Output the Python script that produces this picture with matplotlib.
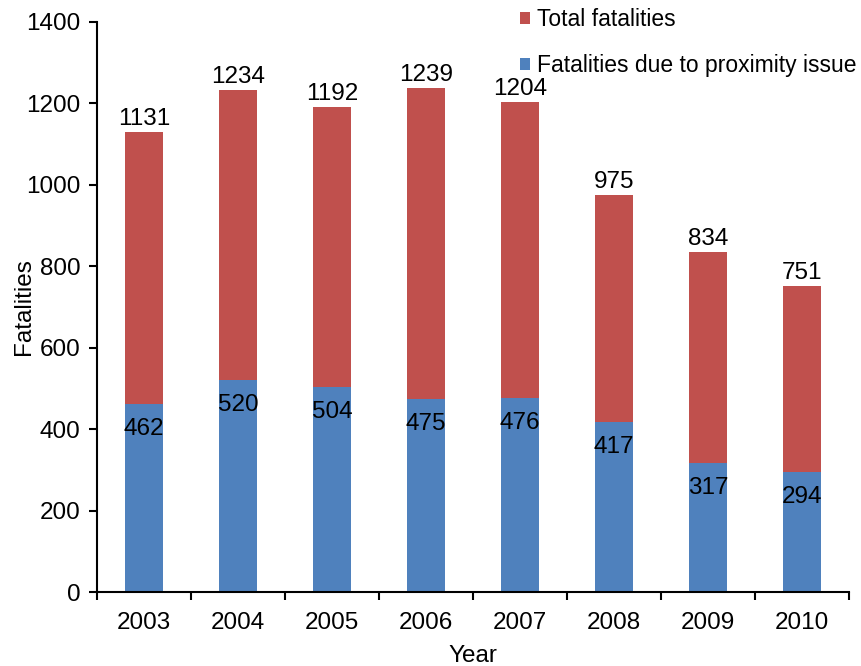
import matplotlib.pyplot as plt
import numpy as np

#%% Data

years = ["2003", "2004", "2005", "2006", "2007", "2008", "2009", "2010"]
total = [1131, 1234, 1192, 1239, 1204, 975, 834, 751]
proximity = [462, 520, 504, 475, 476, 417, 317, 294]

#%% Plot

plt.rcParams["font.family"] = ["Liberation Sans", "DejaVu Sans"]
plt.rcParams["font.size"] = 17.5

red = "#C0504D"
blue = "#4F81BD"

fig = plt.figure(figsize=(8.62, 6.66), dpi=100)
ax = fig.add_axes([0.1125, 0.111, 0.8725, 0.856])

x = np.arange(len(years))
b1 = ax.bar(x, total, width=0.4, color=red, label="Total fatalities")
b2 = ax.bar(x, proximity, width=0.4, color=blue, label="Fatalities due to proximity issue")

for xi, t in zip(x, total):
    ax.annotate(str(t), (xi, t), xytext=(0, 2), textcoords="offset pixels",
                ha="center", va="bottom")
for xi, p in zip(x, proximity):
    ax.annotate(str(p), (xi, p), xytext=(0, -25), textcoords="offset pixels",
                ha="center", va="center")

ax.set_xlim(-0.5, len(years) - 0.5)
ax.set_ylim(0, 1400)
ax.set_yticks(range(0, 1401, 200))
ax.set_xticks(x)
ax.set_xticklabels(years)
ax.set_xticks(np.arange(-0.5, len(years)), minor=True)
ax.tick_params(axis="x", which="major", length=0, pad=14)
ax.tick_params(axis="x", which="minor", length=6, width=1.5, direction="out")
ax.tick_params(axis="y", length=6, width=1.5, direction="out", pad=6)

for s in ["top", "right"]:
    ax.spines[s].set_visible(False)
for s in ["left", "bottom"]:
    ax.spines[s].set_linewidth(1.5)

ax.set_xlabel("Year", labelpad=8)
ax.set_ylabel("Fatalities")
ax.yaxis.set_label_coords(-0.082, 0.5)

ax.legend(loc="upper left", bbox_to_anchor=(512 / 862, 1.0), bbox_transform=fig.transFigure,
          frameon=False, fontsize=16.5, handlelength=0.45, handleheight=0.45,
          handletextpad=0.3, labelspacing=1.0, borderaxespad=0.15, borderpad=0.2)

fig.savefig("out.png", dpi=100)
